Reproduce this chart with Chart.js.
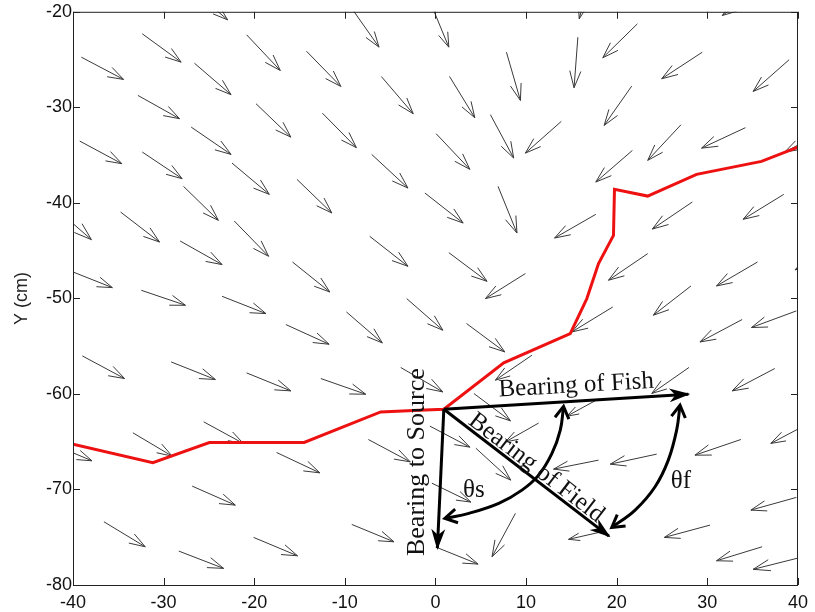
<!DOCTYPE html>
<html>
<head>
<meta charset="utf-8">
<script src="https://cdn.jsdelivr.net/npm/chart.js@4.4.0/dist/chart.umd.min.js"></script>
<style>
  html, body { margin: 0; padding: 0; background: #fff; }
  #wrap { width: 815px; height: 612px; }
</style>
</head>
<body>
<div id="wrap"><canvas id="fieldChart" width="815" height="612"></canvas></div>
<script>
// field vectors, tail -> head (cm)
const tailX = [-32.36, -39.08, -26.60, -20.84, -14.24, -32.84, -19.81, -12.48, -39.26, -26.96,
  -32.36, -22.45, -15.29, -27.81, -34.75, -42.38, -22.20, -28.18, -15.78, -40.36,
  -32.47, -23.55, -26.71, -9.2, -0.4, 7.83, 15.71, -5.98, 1.55, 6.06,
  13.88, 0.07, -7.04, -1.17, 6.90, 17.69, -7.26, 1.47, 9.92, 17.11,
  22.28, 29.44, 39.02, 21.65, 27.09, 34.20, 21.73, 42.87, 28.34, 38.43,
  23.42, 35.53, 28.19, 44.19, 35.60, -16.51, -38.97, -29.17, -20.84, -12.65,
  -33.39, -25.58, -42.48, -17.54, -26.85, -36.59, -20.07, -28.33, -9.83, -3.18,
  3.42, -3.84, 10.64, 4.23, -7.41, -0.62, 4.45, -0.40, 8.82, 0.04,
  -9.24, 11.38, 19.56, 33.84, 39.82, 27.97, 37.44, 17.99, 33.70, 41.33,
  24.41, 17.99, 39.82, 30.29, 18.35, 36.04, 40.55];
const tailY = [-22.30, -24.75, -25.38, -22.41, -24.12, -28.75, -29.62, -30.61, -33.53, -32.07,
  -34.68, -35.84, -37.54, -38.27, -40.96, -40.19, -41.90, -43.99, -46.19, -47.10,
  -49.15, -49.78, -17.77, -19.7, -19.4, -24.23, -22.66, -26.77, -26.77, -30.77,
  -31.47, -32.76, -34.93, -38.97, -38.27, -41.20, -43.50, -45.21, -47.40, -16.20,
  -21.26, -24.23, -25.02, -27.78, -31.82, -32.13, -34.51, -32.52, -39.91, -39.11,
  -45.31, -46.19, -48.70, -44.50, -17.77, -52.74, -56.02, -56.65, -57.80, -58.39,
  -64.07, -62.92, -65.17, -66.13, -69.65, -73.38, -75.02, -76.45, -51.42, -50.02,
  -52.63, -57.23, -55.95, -59.95, -64.77, -63.37, -65.68, -69.34, -72.50, -76.03,
  -73.66, -63.05, -50.90, -52.21, -51.31, -57.23, -57.34, -60.52, -64.77, -63.01,
  -66.30, -66.93, -70.83, -73.73, -74.43, -76.00, -77.05];
const headX = [-28.07, -34.42, -22.56, -17.13, -10.45, -28.25, -15.96, -8.73, -34.61, -22.56,
  -27.96, -18.34, -11.44, -23.96, -30.45, -37.97, -18.42, -23.55, -11.66, -35.66,
  -27.59, -18.71, -22.94, -6.23, 1.47, 9.37, 15.29, -2.46, 4.34, 8.63,
  9.92, 3.79, -3.04, 3.05, 8.99, 13.14, -3.04, 5.69, 5.51, 15.86,
  18.46, 24.96, 35.05, 18.61, 23.42, 29.36, 17.69, 38.54, 23.93, 33.95,
  19.09, 31.01, 24.04, 39.68, 31.64, -11.74, -34.31, -24.29, -15.96, -7.70,
  -29.06, -21.21, -37.91, -12.76, -22.09, -32.03, -15.23, -23.38, -5.87, 0.81,
  7.64, 0.81, 6.61, 8.27, -2.79, 3.79, 8.30, 3.90, 6.24, 4.70,
  -4.58, 7.72, 15.05, 29.18, 34.86, 23.86, 32.74, 14.50, 28.63, 37.00,
  19.28, 13.03, 34.80, 25.25, 14.68, 31.01, 35.05];
const headY = [-25.27, -27.08, -28.68, -26.14, -27.81, -31.19, -33.12, -34.22, -35.90, -34.93,
  -37.47, -39.11, -41.06, -41.83, -44.10, -43.85, -45.59, -46.46, -49.33, -48.87,
  -50.72, -51.59, -20.84, -23.70, -23.70, -29.28, -27.95, -30.67, -31.09, -35.31,
  -34.79, -36.49, -38.45, -42.11, -43.16, -43.68, -46.64, -48.21, -50.02, -20.73,
  -24.81, -27.01, -28.34, -31.89, -35.55, -34.27, -37.82, -34.68, -42.74, -41.72,
  -48.10, -48.70, -51.76, -47.01, -20.39, -54.80, -58.39, -58.49, -59.68, -60.03,
  -66.51, -65.18, -67.00, -68.26, -71.64, -76.00, -76.94, -78.26, -54.66, -53.33,
  -55.60, -59.79, -58.56, -62.82, -67.11, -65.57, -69.02, -71.32, -77.04, -77.81,
  -75.48, -65.02, -53.51, -54.56, -53.05, -59.95, -59.68, -62.33, -66.41, -65.18,
  -67.35, -67.87, -72.16, -75.02, -75.22, -77.46, -78.36];

// fish track (red)
const trackX = [-40, -31.19, -24.95, -14.49, -6.05, -1.83, 0.92, 7.53, 14.87, 16.70, 17.99, 19.64, 19.75, 23.41, 28.81, 35.97, 40];
const trackY = [-65.26, -67.20, -65.08, -65.08, -61.88, -61.70, -61.60, -56.75, -53.68, -50.02, -46.36, -43.40, -38.59, -39.29, -37.02, -35.66, -34.16];

// bearings from the turning point
const originX = 0.92, originY = -61.6;
const sourceTip = [0.21, -76.13];
const fishTip = [27.90, -60.03];
const fieldTip = [19.14, -74.88];

// angle arcs
const thetaSX = [1.03, 3.68, 6.98, 9.54, 11.38, 12.85, 13.77, 14.13];
const thetaSY = [-73.03, -72.50, -71.46, -70.07, -68.50, -66.23, -63.79, -61.3];
const thetaFX = [26.98, 26.61, 25.69, 24.23, 22.03, 19.45];
const thetaFY = [-61.18, -63.79, -66.93, -69.72, -72.16, -73.97];

const xTicks = [-40, -30, -20, -10, 0, 10, 20, 30, 40];
const yTicks = [-80, -70, -60, -50, -40, -30, -20];

// text notes
const noteText = ['Bearing of Fish', 'Bearing of Field', 'Bearing to Source', 'θs', 'θf'];
const noteX = [15.57, 10.68, -1.22, 4.23, 27.07];
const noteY = [-59.82, -68.29, -67.14, -70.75, -69.89];
const noteAngle = [-3.2, 37.5, -90, 0, 0];

const pts = (xs, ys) => xs.map((x, i) => ({ x: x, y: ys[i] }));

const datasets = [];
tailX.forEach((x0, i) => {
  datasets.push({
    data: [{ x: x0, y: tailY[i] }, { x: headX[i], y: headY[i] }],
    showLine: true, borderColor: '#3a3a3a', borderWidth: 1, pointRadius: 0,
    head: 'quiver', order: 5
  });
});
datasets.push({
  data: pts(trackX, trackY), showLine: true, borderColor: '#ee1111', borderWidth: 3,
  pointRadius: 0, order: 4
});
[sourceTip, fishTip, fieldTip].forEach(tip => {
  datasets.push({
    data: [{ x: originX, y: originY }, { x: tip[0], y: tip[1] }],
    showLine: true, borderColor: '#000', borderWidth: 3, pointRadius: 0,
    head: 'solid', order: 2
  });
});
[[thetaSX, thetaSY], [thetaFX, thetaFY]].forEach(a => {
  datasets.push({
    data: pts(a[0], a[1]), showLine: true, borderColor: '#000', borderWidth: 3,
    pointRadius: 0, tension: 0.4, head: 'both', order: 1
  });
});

function chevron(ctx, tx, ty, fx, fy, back, hw) {
  const dx = tx - fx, dy = ty - fy;
  const len = Math.hypot(dx, dy) || 1;
  const ux = dx / len, uy = dy / len;
  ctx.beginPath();
  ctx.moveTo(tx - back * ux + hw * uy, ty - back * uy - hw * ux);
  ctx.lineTo(tx, ty);
  ctx.lineTo(tx - back * ux - hw * uy, ty - back * uy + hw * ux);
  ctx.stroke();
}

const arrowPlugin = {
  id: 'arrowHeads',
  afterDatasetDraw(chart, args) {
    const ds = chart.data.datasets[args.index];
    if (!ds.head) return;
    const p = args.meta.data;
    const ctx = chart.ctx;
    const a = chart.chartArea;
    ctx.save();
    ctx.beginPath();
    ctx.rect(a.left, a.top, a.right - a.left, a.bottom - a.top);
    ctx.clip();
    const first = p[0], last = p[p.length - 1];
    if (ds.head === 'quiver') {
      const len = Math.hypot(last.x - first.x, last.y - first.y);
      ctx.strokeStyle = ds.borderColor;
      ctx.lineWidth = 1;
      chevron(ctx, last.x, last.y, first.x, first.y, 0.33 * len, 0.11 * len);
    } else if (ds.head === 'solid') {
      const dx = last.x - first.x, dy = last.y - first.y;
      const len = Math.hypot(dx, dy);
      const ux = dx / len, uy = dy / len;
      const L = 19, W = 7, N = 13;
      ctx.fillStyle = '#000';
      ctx.beginPath();
      ctx.moveTo(last.x + 2 * ux, last.y + 2 * uy);
      ctx.lineTo(last.x - L * ux + W * uy, last.y - L * uy - W * ux);
      ctx.lineTo(last.x - N * ux, last.y - N * uy);
      ctx.lineTo(last.x - L * ux - W * uy, last.y - L * uy + W * ux);
      ctx.closePath();
      ctx.fill();
    } else if (ds.head === 'both') {
      ctx.strokeStyle = '#000';
      ctx.lineWidth = 3;
      ctx.lineJoin = 'miter';
      const second = p[1], prev = p[p.length - 2];
      chevron(ctx, first.x, first.y, second.x, second.y, 12, 7);
      chevron(ctx, last.x, last.y, prev.x, prev.y, 12, 7);
    }
    ctx.restore();
  },
  afterDraw(chart) {
    const ctx = chart.ctx;
    const a = chart.chartArea;
    const xs = chart.scales.x, ys = chart.scales.y;
    ctx.save();
    // axes box with inward ticks
    ctx.strokeStyle = '#222';
    ctx.lineWidth = 1;
    ctx.strokeRect(a.left + 0.5, a.top + 0.5, a.right - a.left - 1, a.bottom - a.top);
    ctx.beginPath();
    xTicks.forEach(v => {
      const px = Math.round(xs.getPixelForValue(v)) + 0.5;
      ctx.moveTo(px, a.bottom); ctx.lineTo(px, a.bottom - 7);
      ctx.moveTo(px, a.top); ctx.lineTo(px, a.top + 7);
    });
    yTicks.forEach(v => {
      const py = Math.round(ys.getPixelForValue(v)) + 0.5;
      ctx.moveTo(a.left, py); ctx.lineTo(a.left + 7, py);
      ctx.moveTo(a.right, py); ctx.lineTo(a.right - 7, py);
    });
    ctx.stroke();
    // notes
    ctx.fillStyle = '#111';
    ctx.textAlign = 'center';
    ctx.textBaseline = 'alphabetic';
    noteText.forEach((t, i) => {
      const size = i === 2 ? 26 : 25;
      ctx.font = size + 'px "Liberation Serif", "DejaVu Serif", serif';
      ctx.save();
      ctx.translate(xs.getPixelForValue(noteX[i]), ys.getPixelForValue(noteY[i]));
      ctx.rotate(noteAngle[i] * Math.PI / 180);
      ctx.fillText(t, 0, 0);
      ctx.restore();
    });
    ctx.restore();
  }
};

new Chart(document.getElementById('fieldChart'), {
  type: 'scatter',
  data: { datasets: datasets },
  plugins: [arrowPlugin],
  options: {
    responsive: false,
    animation: false,
    events: [],
    layout: { padding: { top: 11, right: 15, left: 0, bottom: 0 } },
    plugins: { legend: { display: false }, tooltip: { enabled: false } },
    scales: {
      x: {
        type: 'linear', min: -40, max: 40,
        afterFit: s => { s.height = 27; },
        afterBuildTicks: s => { s.ticks = xTicks.map(v => ({ value: v })); },
        grid: { display: false, drawTicks: false },
        border: { display: false },
        ticks: { padding: 7, color: '#111', font: { family: '"Liberation Sans", Arial', size: 18 } }
      },
      y: {
        type: 'linear', min: -80, max: -20,
        afterFit: s => { s.width = 73; },
        afterBuildTicks: s => { s.ticks = yTicks.map(v => ({ value: v })); },
        grid: { display: false, drawTicks: false },
        border: { display: false },
        ticks: { padding: 1, color: '#111', font: { family: '"Liberation Sans", Arial', size: 18 } },
        title: {
          display: true, text: 'Y (cm)', color: '#222',
          font: { family: '"Liberation Sans", Arial', size: 18 },
          padding: { top: 11, bottom: 0 }
        }
      }
    }
  }
});
</script>
</body>
</html>
